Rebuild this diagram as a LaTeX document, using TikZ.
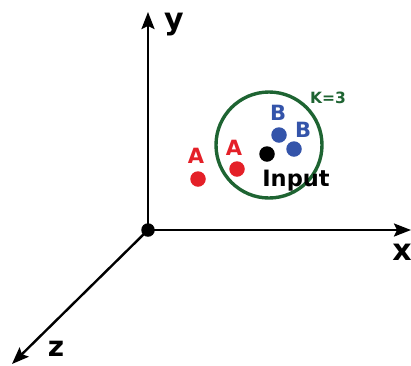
\documentclass[tikz,border=0pt]{standalone}
\usepackage{fontspec}
\setmainfont{DejaVu Sans}
\usetikzlibrary{arrows.meta}
\definecolor{ptred}{RGB}{228,32,40}
\definecolor{ptblue}{RGB}{52,84,170}
\definecolor{ringgreen}{RGB}{30,100,50}
\begin{document}
\begin{tikzpicture}[x=1pt,y=-1pt,
    axis/.style={line width=2.4pt,-{Stealth[length=17pt,width=13pt,inset=3pt]}},
    dot/.style={circle,fill,inner sep=0pt,minimum size=15.5pt},
    lbl/.style={font=\bfseries\fontsize{21}{21}\selectfont,anchor=base},
    axlbl/.style={font=\bfseries\fontsize{30}{30}\selectfont,anchor=base,inner sep=0pt}]
    \useasboundingbox (0,0) rectangle (411,365);

    % axes
    \coordinate (O) at (148,230);
    \coordinate (yend) at (148,12);
    \coordinate (xend) at (411,230);
    \coordinate (zend) at (12,364);
    \draw[axis] (O) -- (yend);
    \draw[axis] (O) -- (xend);
    \draw[axis] (O) -- (zend);
    \node[dot,minimum size=13.5pt] (origin) at (O) {};
    \node[axlbl] (ylbl) at (174,29) {y};
    \node[axlbl] (xlbl) at (402,260) {x};
    \node[axlbl,font=\bfseries\fontsize{28}{28}\selectfont] (zlbl) at (56,356) {z};

    % neighbourhood
    \draw[ringgreen,line width=3.4pt] (269,145) circle (53);
    \node[ringgreen,font=\bfseries\fontsize{15.5}{15.5}\selectfont,anchor=base] (k) at (328,103) {K=3};

    % class A
    \node[dot,ptred] (a1) at (198,179) {};
    \node[dot,ptred] (a2) at (237,169) {};
    \node[lbl,ptred] (a1lbl) at (196,163) {A};
    \node[lbl,ptred] (a2lbl) at (234,155) {A};

    % class B
    \node[dot,ptblue] (b1) at (279,135) {};
    \node[dot,ptblue] (b2) at (294,149) {};
    \node[lbl,ptblue] (b1lbl) at (278,120) {B};
    \node[lbl,ptblue] (b2lbl) at (303,137) {B};

    % query point
    \node[dot,black] (q) at (267,154) {};
    \node[font=\bfseries\fontsize{22.5}{22.5}\selectfont,anchor=base] (qlbl) at (296,186) {Input};
\end{tikzpicture}
\end{document}
